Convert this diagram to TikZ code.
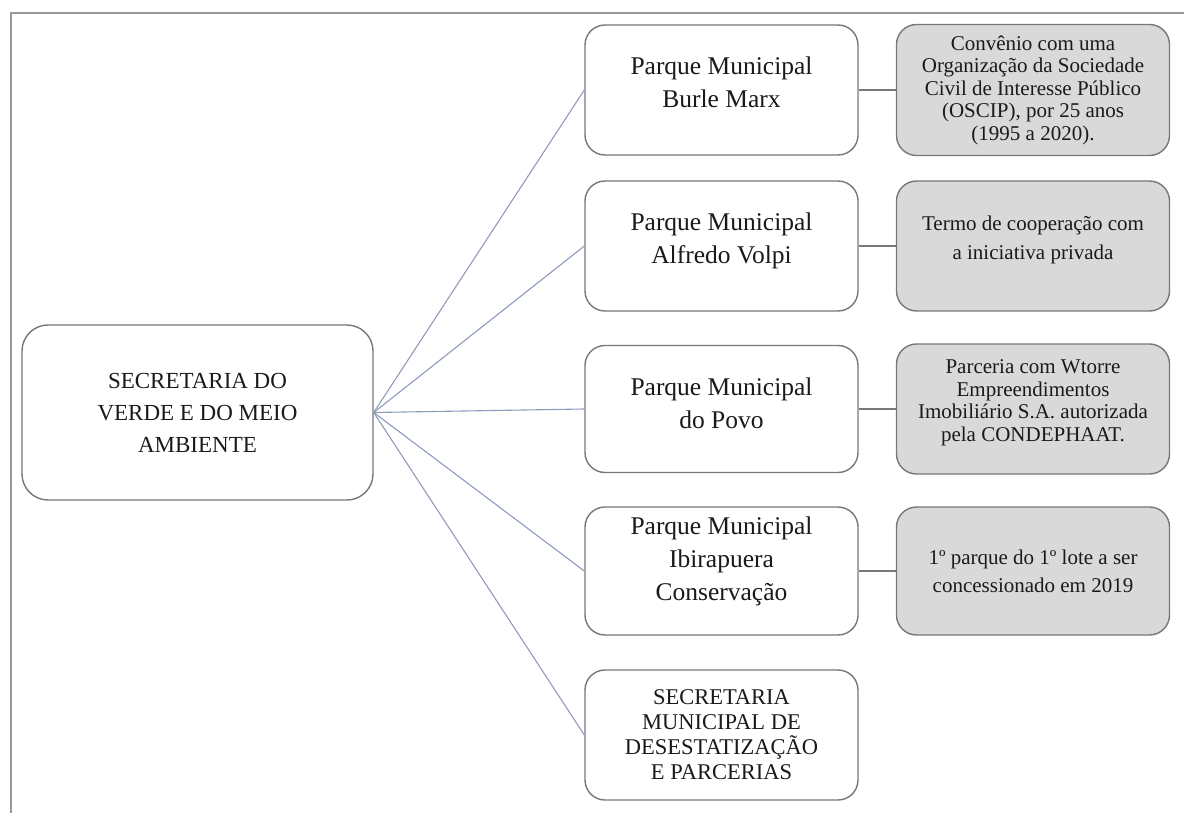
\documentclass[tikz,border=0pt]{standalone}
\usepackage{fontspec}
\setmainfont{Liberation Serif}
\usepackage{xcolor}
\definecolor{frameGray}{HTML}{999999}
\definecolor{boxGray}{HTML}{777777}
\definecolor{fillGray}{HTML}{D9D9D9}
\definecolor{linkBlue}{HTML}{8E9BBD}
\definecolor{textGray}{HTML}{1A1A1A}

\begin{document}
\begin{tikzpicture}[x=1pt,y=-1pt,
	box/.style={draw=boxGray, line width=1.4pt, rounded corners=20pt, fill=white,
		minimum width=273pt, minimum height=130pt, align=center, text=textGray, inner sep=0pt},
	note/.style={box, fill=fillGray},
	link/.style={draw=linkBlue, line width=1.1pt},
	tie/.style={draw=boxGray, line width=1.1pt}]
	\newcommand\Mid{\fontsize{25.5}{33}\selectfont}
	\newcommand\Note{\fontsize{21}{22.5}\selectfont}

	\useasboundingbox (0,0) rectangle (1184,813);
	\draw [frameGray, line width=2.2pt] (11,813) -- (11,13) -- (1184,13);

	\node [box, minimum width=351pt, minimum height=175pt, rounded corners=26pt,
		font=\fontsize{23}{32}\selectfont] (root) at (197.5,412.5)
		{SECRETARIA DO\\VERDE E DO MEIO\\AMBIENTE};

	\node [box, font=\Mid] (burle) at (721.5,90) {Parque Municipal\\Burle Marx\\[-17pt]};
	\node [box, font=\Mid] (volpi) at (721.5,246) {Parque Municipal\\Alfredo Volpi\\[-17pt]};
	\node [box, font=\Mid, minimum height=127pt] (povo) at (721.5,409) {Parque Municipal\\do Povo\\[-22pt]};
	\node [box, font=\Mid, minimum height=128pt] (ibira) at (721.5,571) {Parque Municipal\\Ibirapuera\\Conservação\\[-8pt]};
	\node [box, font=\fontsize{22.5}{25}\selectfont] (desest) at (721.5,735)
		{SECRETARIA\\MUNICIPAL DE\\DESESTATIZAÇÃO\\E PARCERIAS};

	\node [note, font=\Note, minimum height=131pt] (oscip) at (1033,90)
		{Convênio com uma\\Organização da Sociedade\\Civil de Interesse Público\\(OSCIP), por 25 anos\\(1995 a 2020).};
	\node [note, font=\fontsize{21}{29}\selectfont] (termo) at (1033,246)
		{Termo de cooperação com\\a iniciativa privada\\[-12pt]};
	\node [note, font=\Note] (wtorre) at (1033,409)
		{Parceria com Wtorre\\Empreendimentos\\Imobiliário S.A. autorizada\\pela CONDEPHAAT.\\[-6pt]};
	\node [note, font=\fontsize{21}{28}\selectfont, minimum height=128pt] (lote) at (1033,571)
		{1º parque do 1º lote a ser\\concessionado em 2019};

	\foreach \park in {burle,volpi,povo,ibira,desest}
		\draw [link] (root.east) -- (\park.west);

	\draw [tie] (burle) -- (oscip);
	\draw [tie] (volpi) -- (termo);
	\draw [tie] (povo) -- (wtorre);
	\draw [tie] (ibira) -- (lote);
\end{tikzpicture}
\end{document}
